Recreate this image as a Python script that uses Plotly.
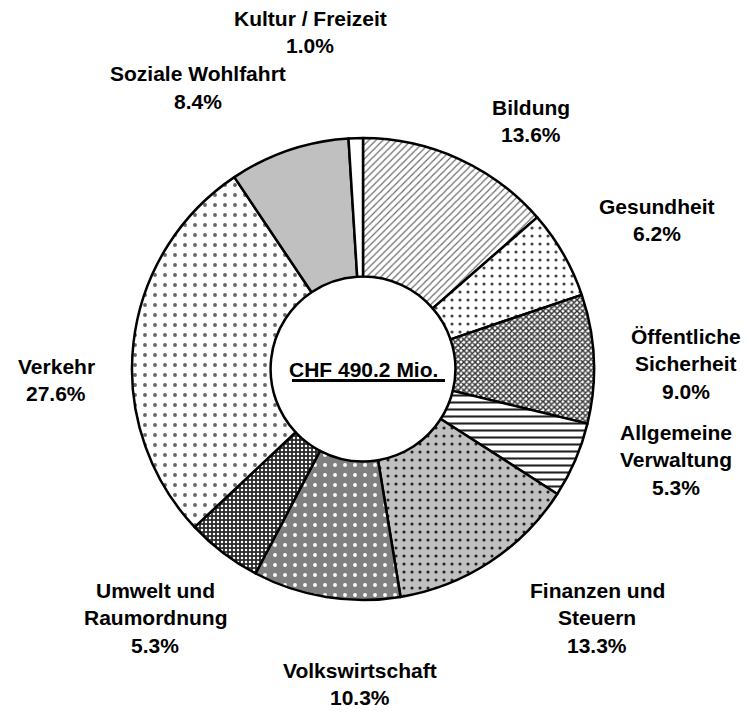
import plotly.graph_objects as go

categories = ["Bildung", "Gesundheit", "Öffentliche Sicherheit", "Allgemeine Verwaltung",
              "Finanzen und Steuern", "Volkswirtschaft", "Umwelt und Raumordnung",
              "Verkehr", "Soziale Wohlfahrt", "Kultur / Freizeit"]
shares = [13.6, 6.2, 9.0, 5.3, 13.3, 10.3, 5.3, 27.6, 8.4, 1.0]
label_lines = [["Bildung"], ["Gesundheit"], ["Öffentliche", "Sicherheit"], ["Allgemeine", "Verwaltung"],
               ["Finanzen und", "Steuern"], ["Volkswirtschaft"], ["Umwelt und", "Raumordnung"],
               ["Verkehr"], ["Soziale Wohlfahrt"], ["Kultur / Freizeit"]]
total_label = "CHF 490.2 Mio."

# styling
bg_colors = ["#ffffff", "#ffffff", "#ffffff", "#ffffff", "#c0c0c0", "#808080", "#2a2a2a",
             "#ffffff", "#c0c0c0", "#ffffff"]
fg_colors = ["#666666", "#444444", "#333333", "#222222", "#222222", "#ffffff", "#ffffff",
             "#666666", "#c0c0c0", "#ffffff"]
shapes = ["/", ".", "x", "-", ".", ".", ".", ".", "", ""]
sizes = [5, 8, 4, 7, 8, 10, 4, 10, 8, 8]
solid = [0.22, 0.12, 0.6, 0.3, 0.12, 0.12, 0.3, 0.12, 0.2, 0.2]

W, H = 747, 712
cx, cy, R = 363, 369, 231

fig = go.Figure(go.Pie(
    labels=categories, values=shares, sort=False, direction="clockwise", rotation=0,
    hole=0.40, textinfo="none", hoverinfo="label+percent",
    marker=dict(colors=bg_colors, line=dict(color="black", width=2.5),
                pattern=dict(shape=shapes, fgcolor=fg_colors, bgcolor=bg_colors,
                             size=sizes, solidity=solid, fillmode="replace")),
    domain=dict(x=[(cx - R) / W, (cx + R) / W], y=[(H - cy - R) / H, (H - cy + R) / H]),
    showlegend=False,
))

# label anchor positions (pixels, center of first line)
label_pos = [(531, 107), (657, 206), (686, 336), (676, 432), (597, 590),
             (360, 670), (155, 590), (56, 366), (198, 74), (310, 18)]
line_gap = 27.5
font = dict(family="Arial, Liberation Sans, sans-serif", size=21, color="black")
anns = []
for lines, v, (px, py) in zip(label_lines, shares, label_pos):
    for i, t in enumerate(lines + [f"{v:.1f}%"]):
        anns.append(dict(x=px / W, y=1 - (py + i * line_gap) / H, xref="paper", yref="paper",
                         text=f"<b>{t}</b>", showarrow=False, font=font,
                         xanchor="center", yanchor="middle"))
anns.append(dict(x=cx / W, y=1 - (cy + 0.5) / H, xref="paper", yref="paper",
                 text=f"<b>{total_label}</b>", showarrow=False, font=font,
                 xanchor="center", yanchor="middle"))

# underline below the centre label
underline = dict(type="line", xref="paper", yref="paper",
                 x0=292 / W, x1=445 / W, y0=1 - 380.5 / H, y1=1 - 380.5 / H,
                 line=dict(color="black", width=3))

fig.update_layout(width=W, height=H, margin=dict(l=0, r=0, t=0, b=0),
                  paper_bgcolor="white", plot_bgcolor="white", annotations=anns,
                  shapes=[underline])
fig.write_html("out.html", config={"displayModeBar": False},
               post_script="document.body.style.margin='0px';")
